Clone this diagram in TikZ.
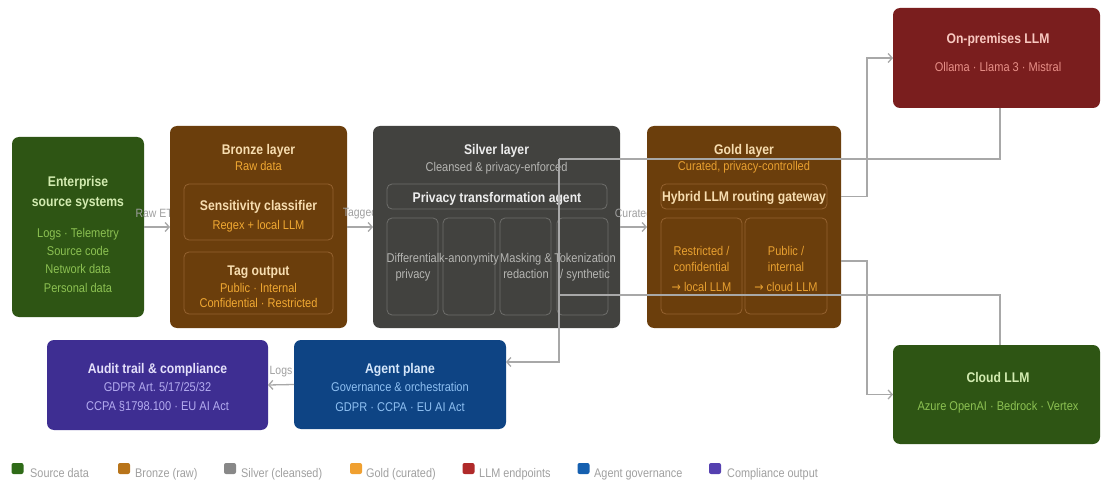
\documentclass[tikz,border=0pt]{standalone}
\usepackage{fontspec}
\setmainfont{Liberation Sans}[FakeStretch=0.87]
\newfontfamily\arrfont{DejaVu Sans}[FakeStretch=0.87]
\usetikzlibrary{arrows.meta}
\frenchspacing
\pgfdeclarelayer{bg}
\pgfdeclarelayer{la}
\pgfdeclarelayer{lb}
\pgfdeclarelayer{lc}
\pgfdeclarelayer{ld}
\pgfdeclarelayer{le}
\pgfdeclarelayer{lf}
\pgfsetlayers{bg,la,lb,lc,ld,le,lf,main}
\definecolor{srcF}{HTML}{2E5514}
\definecolor{srcT}{HTML}{D2EBB0}
\definecolor{srcS}{HTML}{8CC152}
\definecolor{brzF}{HTML}{6B3E0C}
\definecolor{brzT}{HTML}{F7DDB0}
\definecolor{brzS}{HTML}{F0A832}
\definecolor{brzB}{HTML}{946230}
\definecolor{silF}{HTML}{42423F}
\definecolor{silT}{HTML}{EDEDED}
\definecolor{silS}{HTML}{B5B5B2}
\definecolor{silB}{HTML}{6E6E6B}
\definecolor{gldS}{HTML}{E8A030}
\definecolor{redF}{HTML}{7A1E1E}
\definecolor{redT}{HTML}{F8C8C0}
\definecolor{redS}{HTML}{E89088}
\definecolor{audF}{HTML}{3E2E92}
\definecolor{audT}{HTML}{E4E0FA}
\definecolor{audS}{HTML}{B4ACF0}
\definecolor{agtF}{HTML}{0E4484}
\definecolor{agtT}{HTML}{D4E6FA}
\definecolor{agtS}{HTML}{8EC0F2}
\definecolor{conn}{HTML}{A8A8A8}
\definecolor{lbl}{HTML}{A0A0A0}
\definecolor{lgGreen}{HTML}{2F6B18}
\definecolor{lgBronze}{HTML}{B8741A}
\definecolor{lgSilver}{HTML}{888888}
\definecolor{lgGold}{HTML}{F0A030}
\definecolor{lgRed}{HTML}{B02A2A}
\definecolor{lgBlue}{HTML}{1560B0}
\definecolor{lgPurple}{HTML}{5540B0}
\tikzset{
  box/.style={rectangle, rounded corners=7pt, inner sep=0pt, outer sep=0pt, draw=none},
  inbox/.style={rectangle, rounded corners=5pt, inner sep=0pt, outer sep=0pt, line width=0.8pt},
  ttl/.style={font=\fontsize{14}{16}\selectfont\bfseries, anchor=base, inner sep=0pt},
  sub/.style={font=\fontsize{12.7}{14}\selectfont, anchor=base, inner sep=0pt},
  elbl/.style={font=\fontsize{12}{14}\selectfont, text=lbl, inner sep=0pt},
  lgsq/.style={rectangle, rounded corners=2pt, minimum width=12pt, minimum height=11pt, inner sep=0pt},
  lgtx/.style={font=\fontsize{12.5}{14}\selectfont, text=lbl, anchor=base west, inner sep=0pt},
  arr/.style={draw=conn, line width=1.3pt, -{Straight Barb[length=4pt,width=9pt]}},
  ln/.style={draw=conn, line width=1.3pt},
}
\begin{document}
\begin{tikzpicture}[x=1pt,y=-1pt]
\useasboundingbox (0,0) rectangle (1101,481);
\begin{pgfonlayer}{bg}
\fill[white] (0,0) rectangle (1101,481);
\end{pgfonlayer}

% ---- boxes (layered so edge labels sit over the source box and under the target box) ----
\begin{pgfonlayer}{la}
\node[box, fill=srcF, minimum width=132pt, minimum height=180pt] (src) at (78,227) {};
\end{pgfonlayer}
\begin{pgfonlayer}{lc}
\node[box, fill=brzF, minimum width=177pt, minimum height=202pt] (brz) at (258.5,227) {};
\end{pgfonlayer}
\begin{pgfonlayer}{le}
\node[box, fill=silF, minimum width=247pt, minimum height=202pt] (sil) at (496.5,227) {};
\end{pgfonlayer}
\node[box, fill=brzF, minimum width=194pt, minimum height=202pt] (gld) at (744,227) {};
\node[inbox, draw=brzB, minimum width=149pt, minimum height=56pt] (brz1) at (258.5,212) {};
\node[inbox, draw=brzB, minimum width=149pt, minimum height=62pt] (brz2) at (258.5,283) {};
\node[inbox, draw=silB, minimum width=220pt, minimum height=25pt] (pta) at (497,196.5) {};
\node[inbox, draw=silB, minimum width=51pt, minimum height=97pt] (s1) at (412.5,266.5) {};
\node[inbox, draw=silB, minimum width=52pt, minimum height=97pt] (s2) at (469,266.5) {};
\node[inbox, draw=silB, minimum width=51pt, minimum height=97pt] (s3) at (525.5,266.5) {};
\node[inbox, draw=silB, minimum width=51pt, minimum height=97pt] (s4) at (582.5,266.5) {};
\node[inbox, draw=brzB, minimum width=166pt, minimum height=25pt] (gw) at (744,196.5) {};
\node[inbox, draw=brzB, minimum width=81pt, minimum height=96pt] (g1) at (701.5,266) {};
\node[inbox, draw=brzB, minimum width=82pt, minimum height=96pt] (g2) at (786,266) {};
\node[box, fill=redF, minimum width=207pt, minimum height=100pt] (onp) at (996.5,58) {};
\node[box, fill=srcF, minimum width=207pt, minimum height=99pt] (cld) at (996.5,394.5) {};
\node[box, fill=audF, minimum width=221pt, minimum height=90pt] (aud) at (157.5,385) {};
\node[box, fill=agtF, minimum width=212pt, minimum height=89pt] (agt) at (400,384.5) {};

% ---- texts ----
\node[ttl, text=srcT] (tsrc1) at (78,187) {Enterprise};
\node[ttl, text=srcT] (tsrc2) at (78,207) {source systems};
\node[sub, text=srcS] (tsrc3) at (78,238) {Logs · Telemetry};
\node[sub, text=srcS] (tsrc4) at (78,256) {Source code};
\node[sub, text=srcS] (tsrc5) at (78,274) {Network data};
\node[sub, text=srcS] (tsrc6) at (78,292) {Personal data};

\node[ttl, text=brzT] (tbrz1) at (258.5,155) {Bronze layer};
\node[sub, text=brzS] (tbrz2) at (258.5,171) {Raw data};
\node[ttl, text=brzT] (tbrz3) at (258.5,211) {Sensitivity classifier};
\node[sub, text=brzS] (tbrz4) at (258.5,230) {Regex + local LLM};
\node[ttl, text=brzT] (tbrz5) at (258.5,276) {Tag output};
\node[sub, text=brzS] (tbrz6) at (258.5,292) {Public · Internal};
\node[sub, text=brzS] (tbrz7) at (258.5,307) {Confidential · Restricted};

\node[ttl, text=silT] (tsil1) at (496.5,155) {Silver layer};
\node[sub, text=silS] (tsil2) at (496.5,172) {Cleansed \& privacy-enforced};
\node[ttl, text=silT] (tsil3) at (497,203) {Privacy transformation agent};
\node[sub, text=silS] (ts1a) at (413,262) {Differential};
\node[sub, text=silS] (ts1b) at (413,279) {privacy};
\node[sub, text=silS] (ts2a) at (469,262) {k-anonymity};
\node[sub, text=silS] (ts3a) at (526,262) {Masking \&};
\node[sub, text=silS] (ts3b) at (526,279) {redaction};
\node[sub, text=silS] (ts4a) at (585,262) {Tokenization};
\node[sub, text=silS] (ts4b) at (585,279) {/ synthetic};

\node[ttl, text=brzT] (tgld1) at (744,155) {Gold layer};
\node[sub, text=gldS] (tgld2) at (744,171) {Curated, privacy-controlled};
\node[ttl, text=brzT] (tgld3) at (744,202) {Hybrid LLM routing gateway};
\node[sub, text=gldS] (tg1a) at (701.5,256) {Restricted /};
\node[sub, text=gldS] (tg1b) at (701.5,272) {confidential};
\node[sub, text=gldS] (tg1c) at (701.5,291) {{\arrfont →} local LLM};
\node[sub, text=gldS] (tg2a) at (786,256) {Public /};
\node[sub, text=gldS] (tg2b) at (786,272) {internal};
\node[sub, text=gldS] (tg2c) at (786,291) {{\arrfont →} cloud LLM};

\node[ttl, text=redT] (tonp1) at (998,44) {On-premises LLM};
\node[sub, text=redS] (tonp2) at (998,72) {Ollama · Llama 3 · Mistral};
\node[ttl, text=srcT] (tcld1) at (998,382) {Cloud LLM};
\node[sub, text=srcS] (tcld2) at (998,410) {Azure OpenAI · Bedrock · Vertex};

\node[ttl, text=audT] (taud1) at (157.5,373) {Audit trail \& compliance};
\node[sub, text=audS] (taud2) at (157.5,391) {GDPR Art. 5/17/25/32};
\node[sub, text=audS] (taud3) at (157.5,410) {CCPA §1798.100 · EU AI Act};
\node[ttl, text=agtT] (tagt1) at (400,373) {Agent plane};
\node[sub, text=agtS] (tagt2) at (400,391) {Governance \& orchestration};
\node[sub, text=agtS] (tagt3) at (400,411) {GDPR · CCPA · EU AI Act};

% ---- edge labels (over source box, under target box) ----
\begin{pgfonlayer}{lb}
\path (src.east) -- node[elbl, yshift=14pt] (lraw) {Raw ETL} (brz.west);
\end{pgfonlayer}
\begin{pgfonlayer}{ld}
\path (brz.east) -- node[elbl, yshift=14pt] (ltag) {Tagged} (sil.west);
\end{pgfonlayer}
\begin{pgfonlayer}{lf}
\path (sil.east) -- node[elbl, yshift=14pt] (lcur) {Curated} (gld.west);
\end{pgfonlayer}
\path (agt.west) -- node[elbl, yshift=13pt] (llog) {Logs} (aud.east);

% ---- connectors ----
\draw[arr] (src.east) -- (brz.west);
\draw[arr] (brz.east) -- (sil.west);
\draw[arr] (sil.east) -- (gld.west);
\draw[arr] (agt.west) -- (aud.east);
\coordinate (fbtop) at (559,159);
\coordinate (fbmid) at (559,295);
\coordinate (fbbot) at (559,362);
\coordinate (onpout) at (1000,108);
\coordinate (cldin) at (1000,345);
\draw[arr] (gld.east |- gw.east) -- ++(26,0) |- (onp.west);
\draw[arr] (gld.east |- 0,261) -- ++(26,0) |- (cld.west);
\draw[ln] (onpout) |- (fbtop);
\draw[ln] (cldin) |- (fbmid);
\draw[arr] (fbtop) -- (fbbot) -- (agt.east |- fbbot);

% ---- legend ----
\node[lgsq, fill=lgGreen] (q1) at (17.5,468.5) {};
\node[lgtx] (x1) at (30,477) {Source data};
\node[lgsq, fill=lgBronze] (q2) at (124,468.5) {};
\node[lgtx] (x2) at (135,477) {Bronze (raw)};
\node[lgsq, fill=lgSilver] (q3) at (230,468.5) {};
\node[lgtx] (x3) at (241,477) {Silver (cleansed)};
\node[lgsq, fill=lgGold] (q4) at (356,468.5) {};
\node[lgtx] (x4) at (366,477) {Gold (curated)};
\node[lgsq, fill=lgRed] (q5) at (468.5,468.5) {};
\node[lgtx] (x5) at (479,477) {LLM endpoints};
\node[lgsq, fill=lgBlue] (q6) at (583.5,468.5) {};
\node[lgtx] (x6) at (594,477) {Agent governance};
\node[lgsq, fill=lgPurple] (q7) at (715,468.5) {};
\node[lgtx] (x7) at (727,477) {Compliance output};
\end{tikzpicture}
\end{document}
